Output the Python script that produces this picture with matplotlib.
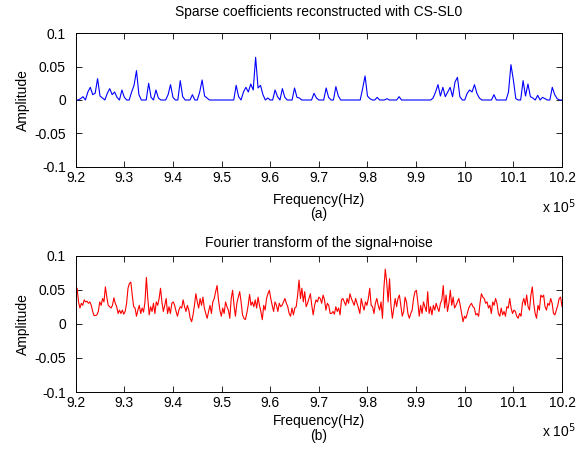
import numpy as np
import matplotlib
matplotlib.use("Agg")
import matplotlib.pyplot as plt

# ---- data -------------------------------------------------------------
# Sparse coefficients recovered by CS-SL0: (frequency in kHz, amplitude)
sparse_freq_khz = [
    921.0, 921.5, 922.5, 923.0, 923.5, 924.0, 924.5, 925.0, 925.5, 926.5,
    927.0, 927.5, 928.0, 928.5, 929.5, 930.0, 931.5, 932.0, 932.5, 933.0,
    935.0, 935.5, 936.5, 937.0, 939.0, 939.5, 940.0, 941.5, 942.0, 944.0,
    945.5, 946.0, 946.5, 947.0, 953.0, 953.5, 954.5, 955.0, 955.5, 956.0,
    956.5, 957.0, 957.5, 958.0, 958.5, 959.5, 961.0, 961.5, 962.5, 963.0,
    965.0, 965.5, 966.0, 969.0, 969.5, 971.5, 972.0, 973.5, 974.0, 979.0,
    979.5, 980.0, 980.5, 982.0, 984.0, 986.5, 993.5, 994.0, 994.5, 995.0,
    995.5, 996.0, 996.5, 997.0, 997.5, 998.0, 998.5, 999.0, 1000.5, 1001.0,
    1001.5, 1002.0, 1002.5, 1003.0, 1006.0, 1009.0, 1009.5, 1010.0, 1010.5,
    1012.0, 1012.5, 1013.0, 1013.5, 1014.0, 1015.0, 1016.0, 1016.5, 1018.0,
    1018.5, 1019.0,
]
sparse_amp = [
    0.002, 0.005, 0.012, 0.019, 0.008, 0.010, 0.032, 0.006, 0.003, 0.010,
    0.017, 0.008, 0.012, 0.004, 0.015, 0.004, 0.012, 0.022, 0.044, 0.008,
    0.025, 0.004, 0.015, 0.003, 0.008, 0.023, 0.004, 0.029, 0.005, 0.008,
    0.012, 0.030, 0.006, 0.003, 0.022, 0.005, 0.012, 0.019, 0.012, 0.024,
    0.015, 0.064, 0.018, 0.022, 0.008, 0.003, 0.015, 0.005, 0.017, 0.004,
    0.018, 0.004, 0.003, 0.010, 0.003, 0.018, 0.004, 0.020, 0.006, 0.017,
    0.036, 0.006, 0.002, 0.004, 0.002, 0.005, 0.003, 0.012, 0.023, 0.006,
    0.019, 0.005, 0.012, 0.019, 0.005, 0.027, 0.034, 0.005, 0.010, 0.015,
    0.012, 0.023, 0.010, 0.003, 0.008, 0.012, 0.053, 0.030, 0.002,
    0.029, 0.006, 0.024, 0.005, 0.003, 0.007, 0.004, 0.002, 0.019,
    0.008, 0.002,
]
sparse_step_khz = 0.5

# Magnitude spectrum of the noisy signal, evenly spaced over 920-1020 kHz
noisy_amp = [
    # 920 - 952 kHz
    0.042, 0.052, 0.032, 0.023, 0.030, 0.027, 0.035, 0.032, 0.033, 0.030,
    0.032, 0.027, 0.018, 0.012, 0.012, 0.013, 0.018, 0.032, 0.027, 0.037,
    0.032, 0.054, 0.039, 0.027, 0.025, 0.023, 0.027, 0.038, 0.030, 0.025,
    0.015, 0.020, 0.015, 0.020, 0.014, 0.018, 0.030, 0.052, 0.059, 0.061,
    0.042, 0.025, 0.023, 0.011, 0.020, 0.027, 0.015, 0.023, 0.017, 0.032,
    0.068, 0.037, 0.013, 0.025, 0.018, 0.030, 0.015, 0.032, 0.027, 0.037,
    0.052, 0.032, 0.018, 0.027, 0.037, 0.015, 0.025, 0.015, 0.030, 0.032,
    0.027, 0.018, 0.011, 0.020, 0.025, 0.023, 0.035, 0.025, 0.018, 0.027,
    0.020, 0.008, 0.003, 0.013, 0.027, 0.044, 0.032, 0.023, 0.037, 0.027,
    0.039, 0.023, 0.015, 0.008, 0.018, 0.027, 0.015, 0.032, 0.037, 0.047,
    0.056, 0.035, 0.020, 0.011, 0.023, 0.015, 0.032, 0.025, 0.020, 0.008,
    0.037, 0.049, 0.027, 0.011,
    # 952 - 987 kHz
    0.030, 0.039, 0.047, 0.032, 0.013, 0.008, 0.006, 0.015, 0.027, 0.043,
    0.027, 0.032, 0.025, 0.035, 0.023, 0.039, 0.027, 0.018, 0.006, 0.027,
    0.020, 0.037, 0.044, 0.049, 0.037, 0.027, 0.018, 0.032, 0.027, 0.018,
    0.030, 0.025, 0.027, 0.032, 0.037, 0.030, 0.025, 0.015, 0.011, 0.023,
    0.013, 0.023, 0.025, 0.042, 0.064, 0.037, 0.052, 0.032, 0.047, 0.025,
    0.030, 0.037, 0.044, 0.027, 0.013, 0.027, 0.035, 0.032, 0.039, 0.037,
    0.030, 0.042, 0.035, 0.020, 0.030, 0.027, 0.015, 0.015, 0.018, 0.014,
    0.025, 0.018, 0.023, 0.013, 0.035, 0.037, 0.032, 0.027, 0.037, 0.030,
    0.044, 0.037, 0.032, 0.027, 0.037, 0.030, 0.023, 0.015, 0.037, 0.027,
    0.020, 0.032, 0.027, 0.037, 0.052, 0.027, 0.025, 0.015, 0.030, 0.037,
    0.027, 0.020, 0.032, 0.008, 0.052, 0.080, 0.061, 0.032, 0.066, 0.027,
    0.008, 0.023, 0.037, 0.025, 0.037, 0.042,
    # 987 - 1020 kHz
    0.027, 0.011, 0.018, 0.039, 0.032, 0.015, 0.008, 0.015, 0.020, 0.037,
    0.047, 0.049, 0.032, 0.011, 0.027, 0.015, 0.032, 0.025, 0.018, 0.047,
    0.015, 0.025, 0.013, 0.027, 0.020, 0.030, 0.023, 0.018, 0.030, 0.035,
    0.056, 0.023, 0.042, 0.018, 0.030, 0.049, 0.027, 0.039, 0.023, 0.027,
    0.032, 0.037, 0.027, 0.015, 0.003, 0.011, 0.008, 0.015, 0.023, 0.027,
    0.030, 0.025, 0.023, 0.013, 0.015, 0.011, 0.030, 0.044, 0.039, 0.037,
    0.030, 0.032, 0.023, 0.027, 0.015, 0.032, 0.027, 0.037, 0.030, 0.015,
    0.011, 0.023, 0.013, 0.018, 0.011, 0.025, 0.023, 0.037, 0.023, 0.015,
    0.020, 0.018, 0.011, 0.008, 0.015, 0.011, 0.030, 0.037, 0.027, 0.042,
    0.025, 0.020, 0.042, 0.054, 0.030, 0.015, 0.008, 0.027, 0.020, 0.042,
    0.039, 0.042, 0.025, 0.020, 0.030, 0.027, 0.037, 0.030, 0.015, 0.013,
    0.020, 0.027, 0.037, 0.039, 0.025,
]

x_ticks = [9.2, 9.3, 9.4, 9.5, 9.6, 9.7, 9.8, 9.9, 10.0, 10.1, 10.2]
x_tick_labels = ["9.2", "9.3", "9.4", "9.5", "9.6", "9.7", "9.8", "9.9", "10", "10.1", "10.2"]
y_ticks = [-0.1, -0.05, 0, 0.05, 0.1]
y_tick_labels = ["-0.1", "-0.05", "0", "0.05", "0.1"]

titles = ["Sparse coefficients reconstructed with CS-SL0",
          "Fourier transform of the signal+noise"]
panel_tags = ["(a)", "(b)"]

# ---- build the series ---------------------------------------------------
f_lo, f_hi = 920.0, 1020.0
n_grid = int(round((f_hi - f_lo) / sparse_step_khz)) + 1
sparse_grid = np.linspace(f_lo, f_hi, n_grid)
sparse_series = np.zeros(n_grid)
for f, a in zip(sparse_freq_khz, sparse_amp):
    sparse_series[int(round((f - f_lo) / sparse_step_khz))] = a

noisy_grid = np.linspace(f_lo, f_hi, len(noisy_amp))

# frequencies are shown in units of 1e5 Hz
x_sparse = sparse_grid * 1e3 / 1e5
x_noisy = noisy_grid * 1e3 / 1e5

# ---- figure -------------------------------------------------------------
W, H = 584, 450
plt.rcParams["font.family"] = ["Liberation Sans", "DejaVu Sans"]
fig = plt.figure(figsize=(W / 100, H / 100), dpi=100)
fig.patch.set_facecolor("white")


def fx(px):
    return px / W


def fy(py):
    return 1 - py / H


# axes boxes in pixels: left, top, right, bottom
boxes = [(75.7, 33.3, 562.0, 166.7), (75.7, 255.5, 562.0, 392.0)]
series = [(x_sparse, sparse_series, "#0000ff"), (x_noisy, np.array(noisy_amp), "#ff0000")]
title_y = [12, 243]
label_y = [200, 421]
tag_y = [214, 436]
exp_y = [207, 431]

fs = 10
for k, ((l, t, r, b), (xs, ys, col)) in enumerate(zip(boxes, series)):
    ax = fig.add_axes([fx(l), fy(b), fx(r) - fx(l), (b - t) / H])
    ax.plot(xs, ys, color=col, lw=0.8)
    ax.set_xlim(9.2, 10.2)
    ax.set_ylim(-0.1, 0.1)
    ax.set_xticks(x_ticks)
    ax.set_xticklabels(x_tick_labels)
    ax.set_yticks(y_ticks)
    ax.set_yticklabels(y_tick_labels)
    ax.tick_params(direction="in", length=4, width=0.6, top=True, right=True,
                   labelsize=fs, colors="black")
    ax.tick_params(axis="y", pad=7)
    ax.tick_params(axis="x", pad=3)
    for s in ax.spines.values():
        s.set_linewidth(0.7)
        s.set_color("black")

    fig.text(fx((l + r) / 2), fy(title_y[k]), titles[k], ha="center", va="center", fontsize=fs)
    fig.text(fx((l + r) / 2), fy(label_y[k]), "Frequency(Hz)", ha="center", va="center", fontsize=fs)
    fig.text(fx((l + r) / 2), fy(tag_y[k]), panel_tags[k], ha="center", va="center", fontsize=fs)
    fig.text(fx(23), fy((t + b) / 2), "Amplitude", ha="center", va="center",
             rotation=90, fontsize=fs)
    fig.text(fx(576), fy(exp_y[k]), r"x 10$^{5}$", ha="right", va="center", fontsize=fs)

fig.savefig("out.png", dpi=100, facecolor="white")
